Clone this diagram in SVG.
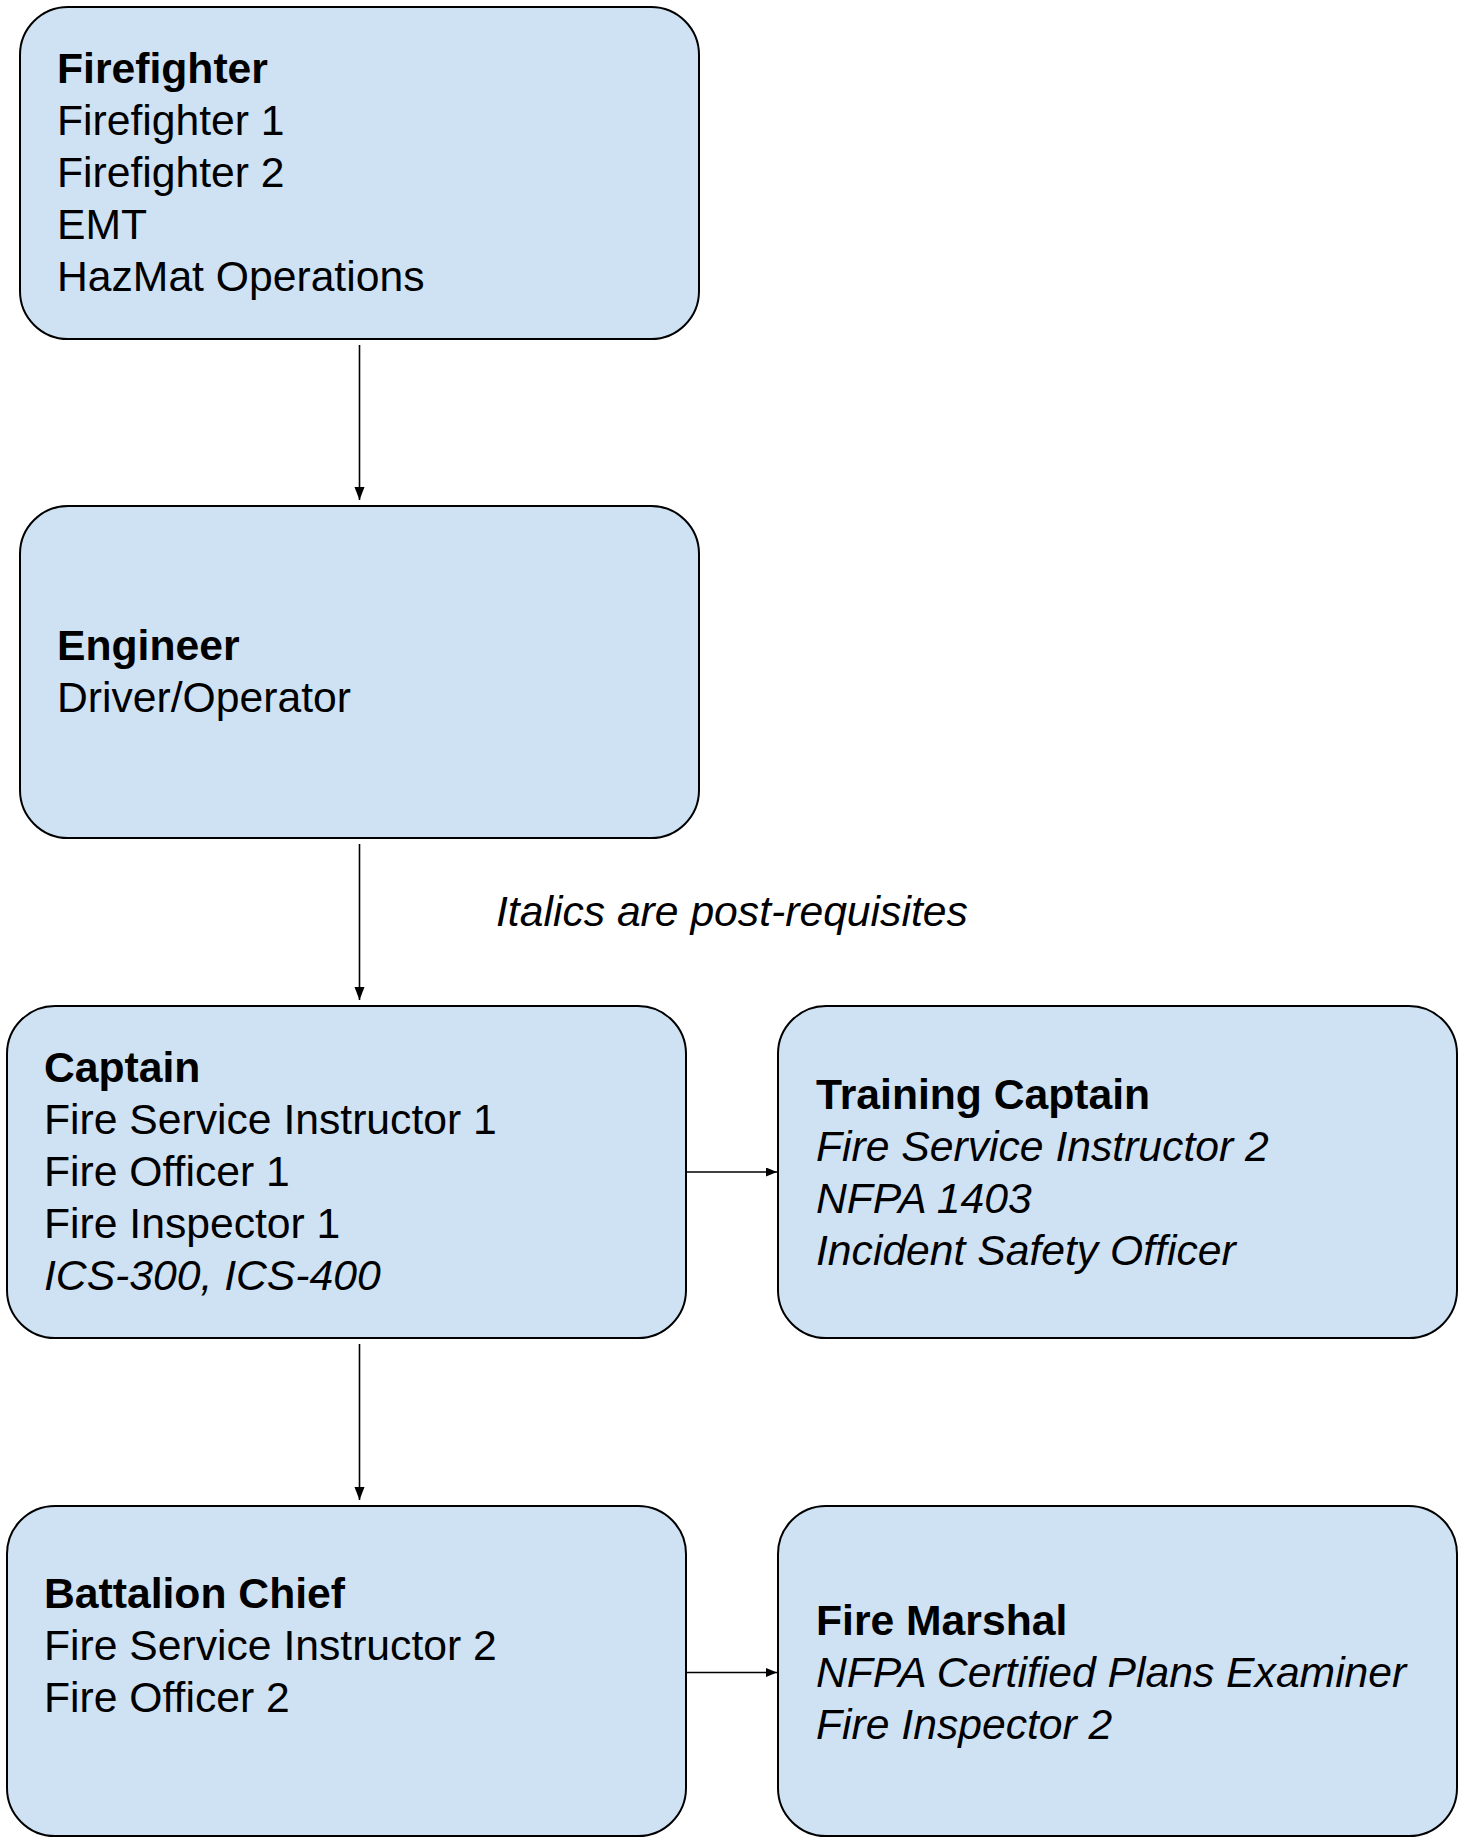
<svg xmlns="http://www.w3.org/2000/svg" width="1461" height="1838" viewBox="0 0 1461 1838">
<style>
.box{fill:#cfe2f3;stroke:#000;stroke-width:2}
text{font-family:"Liberation Sans",Arial,sans-serif;font-size:42.67px;fill:#000}
.b{font-weight:bold}
.i{font-style:italic}
.conn{stroke:#000;stroke-width:1.6;fill:none}
</style>
<defs>
<marker id="arr" markerUnits="userSpaceOnUse" markerWidth="14" markerHeight="12" refX="13" refY="5" orient="auto">
<path d="M0,0 L13,5 L0,10 Z" fill="#000"/>
</marker>
<marker id="arrs" markerUnits="userSpaceOnUse" markerWidth="12" markerHeight="10" refX="11" refY="4.5" orient="auto">
<path d="M0,0 L11,4.5 L0,9 Z" fill="#000"/>
</marker>
</defs>
<rect width="1461" height="1838" fill="#fff"/>
<g id="connectors">
<line class="conn" x1="359.5" y1="345" x2="359.5" y2="500" marker-end="url(#arr)"/>
<line class="conn" x1="359.5" y1="844" x2="359.5" y2="1000" marker-end="url(#arr)"/>
<line class="conn" x1="359.5" y1="1344" x2="359.5" y2="1500" marker-end="url(#arr)"/>
<line class="conn" x1="686" y1="1172" x2="777" y2="1172" marker-end="url(#arrs)"/>
<line class="conn" x1="686" y1="1672.5" x2="777" y2="1672.5" marker-end="url(#arrs)"/>
</g>
<g id="firefighter">
<rect class="box" x="20" y="7" width="679" height="332" rx="48" ry="48"/>
<text x="57" y="83" class="b">Firefighter</text>
<text x="57" y="135">Firefighter 1</text>
<text x="57" y="187">Firefighter 2</text>
<text x="57" y="239">EMT</text>
<text x="57" y="291">HazMat Operations</text>
</g>
<g id="engineer">
<rect class="box" x="20" y="506" width="679" height="332" rx="48" ry="48"/>
<text x="57" y="660" class="b">Engineer</text>
<text x="57" y="712">Driver/Operator</text>
</g>
<g id="note">
<text x="496" y="926" class="i">Italics are post-requisites</text>
</g>
<g id="captain">
<rect class="box" x="7" y="1006" width="679" height="332" rx="48" ry="48"/>
<text x="44" y="1082" class="b">Captain</text>
<text x="44" y="1134">Fire Service Instructor 1</text>
<text x="44" y="1186">Fire Officer 1</text>
<text x="44" y="1238">Fire Inspector 1</text>
<text x="44" y="1290" class="i">ICS-300, ICS-400</text>
</g>
<g id="training-captain">
<rect class="box" x="778" y="1006" width="679" height="332" rx="48" ry="48"/>
<text x="816" y="1109" class="b">Training Captain</text>
<text x="816" y="1161" class="i">Fire Service Instructor 2</text>
<text x="816" y="1213" class="i">NFPA 1403</text>
<text x="816" y="1265" class="i">Incident Safety Officer</text>
</g>
<g id="battalion-chief">
<rect class="box" x="7" y="1506" width="679" height="330" rx="48" ry="48"/>
<text x="44" y="1608" class="b">Battalion Chief</text>
<text x="44" y="1660">Fire Service Instructor 2</text>
<text x="44" y="1712">Fire Officer 2</text>
</g>
<g id="fire-marshal">
<rect class="box" x="778" y="1506" width="679" height="330" rx="48" ry="48"/>
<text x="816" y="1635" class="b">Fire Marshal</text>
<text x="816" y="1687" class="i">NFPA Certified Plans Examiner</text>
<text x="816" y="1739" class="i">Fire Inspector 2</text>
</g>
</svg>
